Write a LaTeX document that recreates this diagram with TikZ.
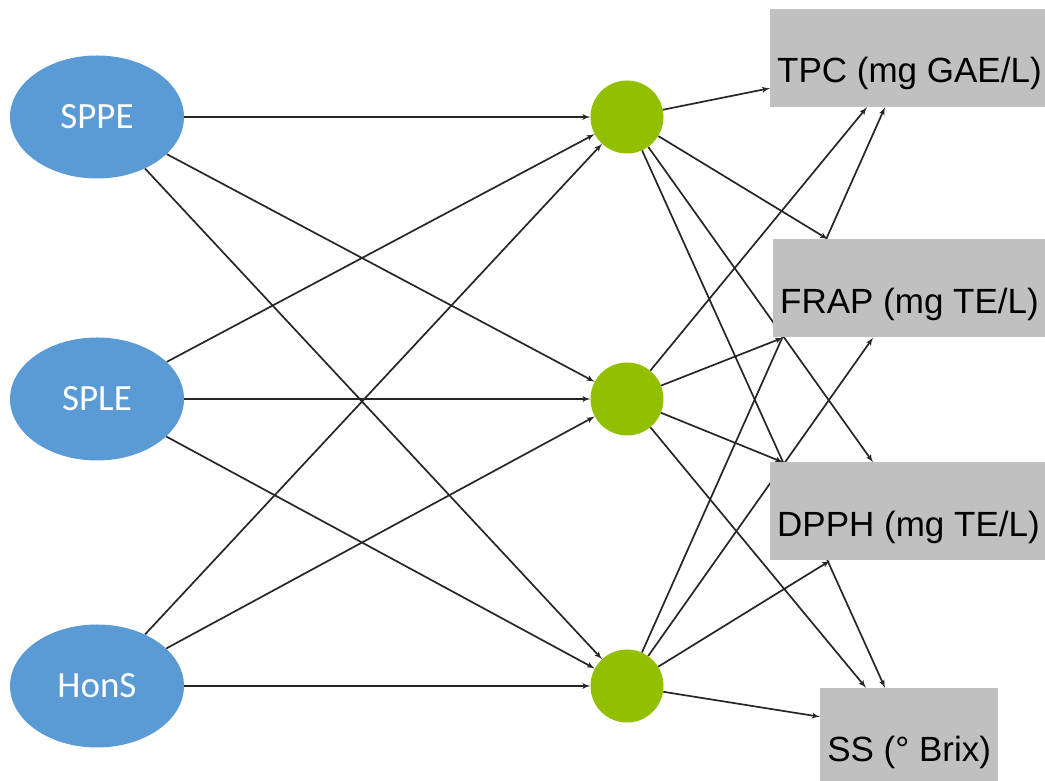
\documentclass[tikz,border=0pt]{standalone}
\usepackage{fontspec}
\setmainfont{Liberation Sans}
\newfontfamily\calibri{Carlito}
\usetikzlibrary{shapes,arrows,backgrounds}
\definecolor{inblue}{RGB}{91,155,213}
\definecolor{hidgreen}{RGB}{146,192,0}
\definecolor{boxgray}{RGB}{192,192,192}

\begin{document}
\begin{tikzpicture}[x=1pt, y=1pt, node distance=530pt]
\tikzstyle{input} = [ellipse, fill=inblue, text=white, minimum width=174pt, minimum height=123pt, inner sep=0pt, font=\calibri\fontsize{37}{37}\selectfont]
\tikzstyle{hidden} = [circle, fill=hidgreen, minimum size=73pt, inner sep=0pt]
\tikzstyle{output} = [rectangle, fill=boxgray, inner xsep=7pt, inner ysep=0pt, text height=74pt, text depth=24pt, font=\fontsize{35}{35}\selectfont]
\tikzstyle{line} = [draw, black!85, line width=1.7pt, -latex']

\useasboundingbox (0,0) rectangle (1045,781);

\node [input] (sppe) at (97,664) {SPPE};
\node [input] (sple) at (97,382) {SPLE};
\node [input] (hons) at (97,95) {HonS};
\node [hidden, right of=sppe] (h1) {};
\node [hidden, right of=sple] (h2) {};
\node [hidden, right of=hons] (h3) {};

\node [output, anchor=west] (tpc) at (770,723) {TPC (mg GAE/L)};
\node [output, anchor=west] (frap) at (773,492.5) {FRAP (mg TE/L)};
\node [output, anchor=west] (dpph) at (770,269.5) {DPPH (mg TE/L)};
\node [output, anchor=west, minimum width=178pt] (ss) at (820,44) {SS (\textdegree{} Brix)};

\begin{pgfonlayer}{background}
% inputs to hidden layer
\path [line] (sppe) -- (h1);
\path [line] (sppe) -- (h2);
\path [line] (sppe) -- (h3);
\path [line] (sple) -- (h1);
\path [line] (sple) -- (h2);
\path [line] (sple) -- (h3);
\path [line] (hons) -- (h1);
\path [line] (hons) -- (h2);
\path [line] (hons) -- (h3);
% hidden layer to outputs
\path [line] (h1) -- ([yshift=19pt]tpc.south west);
\path [line] (h1) -- ([xshift=55pt]frap.north west);
\path [line] (h1) -- ([xshift=103pt]dpph.north west);
\path [line] (h1) -- ([xshift=65pt]ss.north west);
\path [line] (h2) -- ([xshift=97pt]tpc.south west);
\path [line] (h2) -- ([xshift=10pt]frap.south west);
\path [line] (h2) -- ([xshift=13pt]dpph.north west);
\path [line] (h2) -- ([xshift=46pt]ss.north west);
\path [line] (h3) -- ([xshift=115pt]tpc.south west);
\path [line] (h3) -- ([xshift=100pt]frap.south west);
\path [line] (h3) -- ([xshift=60pt]dpph.south west);
\path [line] (h3) -- ([yshift=-29pt]ss.north west);
\end{pgfonlayer}
\end{tikzpicture}
\end{document}
